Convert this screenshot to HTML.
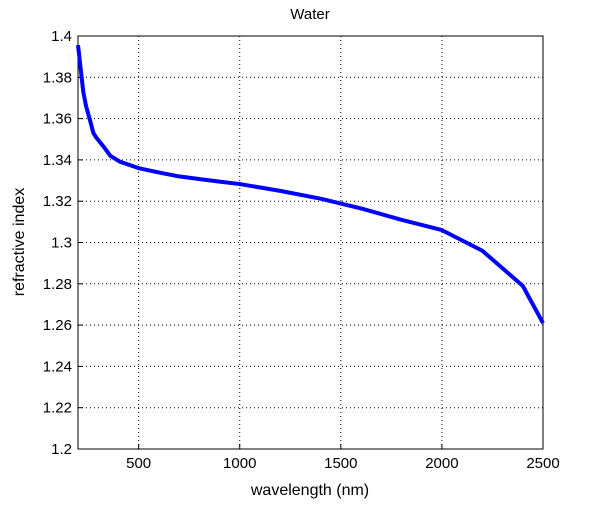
<!DOCTYPE html>
<html><head><meta charset="utf-8"><style>
body{margin:0;background:#fff;width:600px;height:500px;overflow:hidden}
svg{font-family:"Liberation Sans",sans-serif}
</style></head><body>
<svg id="chart" width="600" height="500">
<rect width="600" height="500" fill="#fff"/>
<g id="grid"></g>
<g id="axes"></g>
<text x="310" y="19" font-size="15" text-anchor="middle">Water</text>
<text x="310" y="495" font-size="16" text-anchor="middle">wavelength (nm)</text>
<text transform="translate(24,242) rotate(-90)" font-size="16" text-anchor="middle">refractive index</text>
<g id="series"></g>
</svg>
<script>
const wavelengths=[200,210,226,240,260,276,292,330,360,408,500,605,700,803,900,1001,1200,1400,1600,1800,2000,2200,2400,2500];
const refIndex=[1.3956,1.387,1.373,1.366,1.359,1.353,1.3506,1.346,1.342,1.3391,1.336,1.3338,1.332,1.3307,1.3295,1.3283,1.3250,1.3212,1.3165,1.311,1.306,1.296,1.279,1.261];
const xTicks=[500,1000,1500,2000,2500];
const yTicks=[1.2,1.22,1.24,1.26,1.28,1.3,1.32,1.34,1.36,1.38,1.4];
const L=78,R=543,T=36,B=449,xMin=200,xMax=2500,yMin=1.2,yMax=1.4;
const X=v=>L+(v-xMin)/(xMax-xMin)*(R-L);
const Y=v=>B-(v-yMin)/(yMax-yMin)*(B-T);
const NS="http://www.w3.org/2000/svg";
function mk(tag,parent,attrs){const e=document.createElementNS(NS,tag);for(const k in attrs)e.setAttribute(k,attrs[k]);parent.appendChild(e);return e;}
const grid=document.getElementById('grid'),axes=document.getElementById('axes'),series=document.getElementById('series');
xTicks.forEach(t=>{
  const x=X(t);
  if(t<xMax){const g=mk('line',grid,{x1:x,x2:x,y1:T,y2:B,stroke:'#000','stroke-width':1,'stroke-dasharray':'1,3'});
  
  }
  const tk=mk('line',axes,{x1:x,x2:x,y1:B,y2:B-5,stroke:'#000'});
  
  
  const lb=mk('text',axes,{x:x,y:B+19,'font-size':15,'text-anchor':'middle'});
  lb.textContent=t;
  
  
});
yTicks.forEach(t=>{
  const y=Y(t);
  if(t>yMin&&t<yMax){const g=mk('line',grid,{x1:L,x2:R,y1:y,y2:y,stroke:'#000','stroke-width':1,'stroke-dasharray':'1,3'});
  
  }
  const tk=mk('line',axes,{x1:L,x2:L+5,y1:y,y2:y,stroke:'#000'});
  
  
  const lb=mk('text',axes,{x:L-6,y:y+5,'font-size':15,'text-anchor':'end'});
  lb.textContent=+t.toFixed(2);
  
  
});
const box=mk('rect',axes,{x:L,y:T,width:R-L,height:B-T,fill:'none',stroke:'#000'});


const pl=mk('polyline',series,{points:wavelengths.map((w,i)=>X(w)+','+Y(refIndex[i])).join(' '),fill:'none',stroke:'#0000ff','stroke-width':4,'stroke-linejoin':'round'});


</script>
</body></html>
